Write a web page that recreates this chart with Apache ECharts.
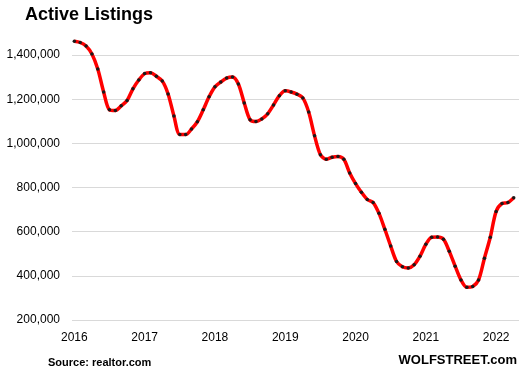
<!DOCTYPE html>
<html>
<head>
<meta charset="utf-8">
<script src="https://cdn.jsdelivr.net/npm/echarts@6/dist/echarts.min.js"></script>
<style>html,body{margin:0;padding:0;background:#fff}#c{width:522px;height:374px}</style>
</head>
<body>
<div id="c"></div>
<script>
// Monthly active listings, Jan 2016 .. Apr 2022 (thousands)
const startYear = 2016;
const yearLabels = ["2016","2017","2018","2019","2020","2021","2022"];
const listingsK = [
  1463,1457,1441,1405,1337,1233,1152,1149,1170,1194,1247,1287,
  1316,1320,1304,1283,1224,1124,1040,1040,1065,1098,1152,1211,
  1256,1278,1296,1301,1269,1183,1107,1099,1111,1134,1174,1216,
  1238,1233,1223,1206,1142,1035,949,928,937,941,928,866,
  818,779,746,732,683,611,535,465,441,436,450,489,
  543,575,576,566,511,444,381,348,352,381,480,575,
  692,728,732,754
];
const yTicks = [200000,400000,600000,800000,1000000,1200000,1400000];

const data = listingsK.map((v,i)=>[i, v*1000]);
const yearIdx = yearLabels.map((y,i)=>i*12);
const fmt = n => String(n).replace(/\B(?=(\d{3})+(?!\d))/g, ",");
const font = "'Liberation Sans', Arial, sans-serif";

const chart = echarts.init(document.getElementById('c'), null, {renderer:'canvas'});
chart.setOption({
  animation:false,
  backgroundColor:'#fff',
  title:[
    {text:'Active Listings', left:25, top:6, padding:0, textStyle:{fontFamily:font, fontSize:18, fontWeight:'bold', color:'#000'}},
    {text:'Source: realtor.com', left:48, top:357, padding:0, textStyle:{fontFamily:font, fontSize:11, fontWeight:'bold', color:'#000'}},
    {text:'WOLFSTREET.com', right:5, top:354, padding:0, textStyle:{fontFamily:font, fontSize:13, fontWeight:'bold', color:'#000'}}
  ],
  grid:{left:72, right:3, top:33, bottom:54, containLabel:false},
  xAxis:{
    type:'value', min:-0.4, max:75.9,
    axisLine:{show:false}, axisTick:{show:false}, splitLine:{show:false},
    axisLabel:{
      customValues: yearIdx,
      formatter: v => yearLabels[Math.round(v/12)],
      margin:12, fontFamily:font, fontSize:12, color:'#000'
    }
  },
  yAxis:{
    type:'value', min:200000, max:1500000, interval:200000,
    axisLine:{show:false}, axisTick:{show:false},
    splitLine:{show:true, showMaxLine:false, lineStyle:{color:'#d9d9d9', width:1}},
    axisLabel:{
      customValues: yTicks,
      formatter: v => fmt(v),
      margin:12, fontFamily:font, fontSize:12, color:'#000'
    }
  },
  series:[{
    type:'line', data:data, smooth:0.3,
    lineStyle:{color:'#ff0000', width:3.5},
    symbol:'circle', symbolSize:3.5, showSymbol:true,
    itemStyle:{color:'#1a1a1a', borderWidth:0}
  }]
});
</script>
</body>
</html>
